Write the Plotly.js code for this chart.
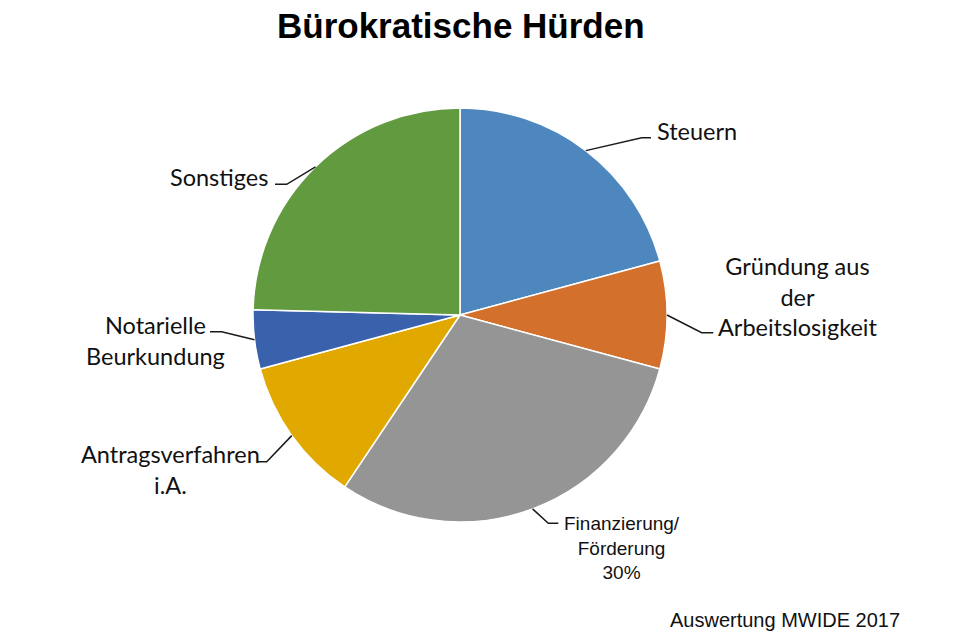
<!DOCTYPE html>
<html><head><meta charset="utf-8">
<script src="https://cdn.plot.ly/plotly-3.0.1.min.js"></script>
<style>html,body{margin:0;padding:0;background:#fff;overflow:hidden}</style>
</head><body><div id="chart" style="width:956px;height:640px"></div>
<script>
// ---- data ----
const categories = ['Steuern', 'Gründung aus der Arbeitslosigkeit', 'Finanzierung/Förderung', 'Antragsverfahren i.A.', 'Notarielle Beurkundung', 'Sonstiges'];
const labelTexts = ['Steuern', 'Gründung aus<br>der<br>Arbeitslosigkeit', 'Finanzierung/<br>Förderung', 'Antragsverfahren<br>i.A.', 'Notarielle<br>Beurkundung', 'Sonstiges'];
const shares = [20.8, 8.4, 30.2, 11.4, 4.6, 24.6];
const showPercent = [false, false, true, false, false, false];
const sliceColors = ['#4e87bd', '#d2702c', '#959595', '#e1a900', '#3a62ac', '#629b3f'];
const titleText = 'Bürokratische Hürden';
const sourceText = 'Auswertung MWIDE 2017';

// ---- layout constants (pixels) ----
const W = 956, H = 640;
const cx = 460, cy = 315, R = 207;
const calibri = 'Lato, "Open Sans", sans-serif';
const arial = '"Liberation Sans", Arial, sans-serif';
// label placement: elbow point, end of horizontal segment, text position, anchor, font
const labelPlace = [
  {elbow: [641.7, 137.7], end: [651, 137.7], text: [655, 131.2], anchor: 'left', font: calibri, size: 23.5},
  {elbow: [701.7, 332.7], end: [713.3, 332.7], text: [797, 296.2], anchor: 'center', font: calibri, size: 23.5},
  {elbow: [548.3, 523.3], end: [558.3, 523.3], text: [622, 548], anchor: 'center', font: arial, size: 19},
  {elbow: [266.7, 461.7], end: [258, 461.7], text: [170, 469], anchor: 'center', font: calibri, size: 23.5},
  {elbow: [221.7, 331.7], end: [210, 331.7], text: [155.5, 340.2], anchor: 'center', font: calibri, size: 23.5},
  {elbow: [286.7, 184.3], end: [275, 184.3], text: [270, 177.3], anchor: 'right', font: calibri, size: 23.5}
];

const px = x => x / W;
const py = y => 1 - y / H;

const total = shares.reduce((a, b) => a + b, 0);
let cum = 0;
const shapes = [], annotations = [];
shares.forEach((v, i) => {
  const mid = (cum + v / 2) / total * 2 * Math.PI;
  cum += v;
  const sx = cx + R * Math.sin(mid), sy = cy - R * Math.cos(mid);
  const p = labelPlace[i];
  shapes.push({
    type: 'path', xref: 'paper', yref: 'paper',
    path: `M ${px(sx)} ${py(sy)} L ${px(p.elbow[0])} ${py(p.elbow[1])} L ${px(p.end[0])} ${py(p.end[1])}`,
    line: {color: '#1a1a1a', width: 1.5}
  });
  let txt = labelTexts[i];
  if (showPercent[i]) txt += '<br>' + Math.round(v / total * 100) + '%';
  annotations.push({
    xref: 'paper', yref: 'paper', x: px(p.text[0]), y: py(p.text[1]),
    xanchor: p.anchor, yanchor: 'middle', align: 'center', showarrow: false,
    text: txt, font: {family: p.font, size: p.size, color: '#111'}
  });
});
annotations.push({
  xref: 'paper', yref: 'paper', x: px(668), y: py(620),
  xanchor: 'left', yanchor: 'middle', showarrow: false,
  text: sourceText, font: {family: arial, size: 20, color: '#111'}
});

const trace = {
  type: 'pie', labels: categories, values: shares, sort: false,
  direction: 'clockwise', rotation: 0, textinfo: 'none', hoverinfo: 'label+percent',
  marker: {colors: sliceColors, line: {color: '#ffffff', width: 1.5}},
  domain: {x: [px(cx - R), px(cx + R)], y: [py(cy + R), py(cy - R)]},
  showlegend: false
};

const layout = {
  width: W, height: H,
  margin: {l: 0, r: 0, t: 0, b: 0},
  paper_bgcolor: '#ffffff',
  title: {text: '<b>' + titleText + '</b>', x: px(460.8), xanchor: 'center', xref: 'paper',
          y: py(26), yref: 'container', yanchor: 'middle',
          font: {family: arial, size: 35, color: '#000'}},
  shapes: shapes, annotations: annotations
};

Plotly.newPlot('chart', [trace], layout, {displayModeBar: false, staticPlot: true});
</script></body></html>
